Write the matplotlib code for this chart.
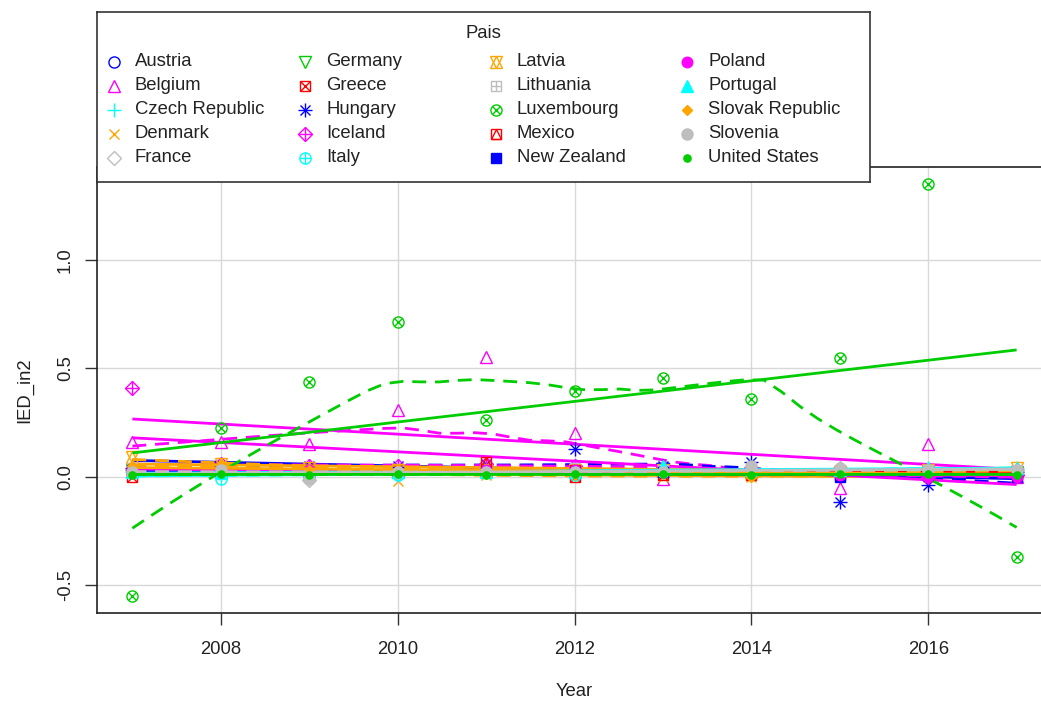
import numpy as np
import matplotlib
matplotlib.use("Agg")
import matplotlib.pyplot as plt

plt.rcParams['font.family'] = ['Liberation Sans', 'DejaVu Sans']

# ---------------- data ----------------
years = [2007, 2008, 2009, 2010, 2011, 2012, 2013, 2014, 2015, 2016, 2017]

paises = ["Austria", "Belgium", "Czech Republic", "Denmark", "France",
          "Germany", "Greece", "Hungary", "Iceland", "Italy",
          "Latvia", "Lithuania", "Luxembourg", "Mexico", "New Zealand",
          "Poland", "Portugal", "Slovak Republic", "Slovenia", "United States"]

austria    = [0.03, 0.03, 0.02, 0.02, 0.03, 0.02, 0.02, 0.02, 0.01, 0.01, 0.01]
belgium    = [0.16, 0.16, 0.15, 0.31, 0.55, 0.20, -0.01, 0.03, -0.05, 0.15, 0.00]
czech      = [0.02, 0.02, 0.02, 0.02, 0.02, 0.02, 0.03, 0.03, 0.03, 0.04, 0.04]
denmark    = [0.04, 0.03, 0.01, -0.02, 0.01, 0.00, 0.00, 0.00, 0.01, 0.00, 0.01]
france     = [0.03, 0.03, -0.015, 0.01, 0.02, 0.02, 0.02, 0.04, 0.04, 0.03, 0.03]
germany    = [0.03, 0.03, 0.02, 0.02, 0.02, 0.02, 0.02, 0.02, 0.02, 0.02, 0.02]
greece     = [0.00, 0.04, 0.03, 0.02, 0.03, 0.00, 0.01, 0.01, 0.01, 0.01, 0.01]
hungary    = [0.04, 0.05, 0.05, 0.05, 0.06, 0.13, 0.05, 0.07, -0.115, -0.04, 0.02]
iceland    = [0.41, 0.06, 0.05, 0.05, 0.06, 0.05, 0.04, 0.04, 0.02, 0.00, 0.01]
italy      = [0.02, -0.01, 0.01, 0.01, 0.02, 0.01, 0.02, 0.03, 0.03, 0.03, 0.03]
latvia     = [0.09, 0.06, 0.04, 0.03, 0.03, 0.03, 0.03, 0.02, 0.02, 0.03, 0.04]
lithuania  = [0.04, 0.03, 0.02, 0.02, 0.03, 0.04, 0.03, 0.03, 0.03, 0.03, 0.03]
luxembourg = [-0.552, 0.225, 0.437, 0.713, 0.262, 0.395, 0.455, 0.359, 0.547, 1.352, -0.372]
mexico     = [0.02, 0.02, 0.02, 0.02, 0.07, 0.03, 0.02, 0.02, 0.02, 0.01, 0.02]
new_zealand = [0.03, 0.02, 0.02, 0.02, 0.02, 0.02, 0.02, 0.02, 0.00, 0.01, 0.00]
poland     = [0.03, 0.03, 0.03, 0.02, 0.03, 0.03, 0.02, 0.02, 0.01, 0.00, 0.00]
portugal   = [0.02, 0.02, 0.02, 0.02, 0.02, 0.02, 0.05, 0.03, 0.03, 0.04, 0.04]
slovak     = [0.05, 0.06, 0.03, 0.03, 0.02, 0.01, 0.02, 0.00, 0.02, 0.02, 0.03]
slovenia   = [0.02, 0.03, -0.01, 0.02, 0.02, 0.02, 0.02, 0.05, 0.04, 0.03, 0.03]
usa        = [0.010, 0.012, 0.010, 0.011, 0.010, 0.012, 0.011, 0.010, 0.012, 0.011, 0.010]

series = [austria, belgium, czech, denmark, france, germany, greece, hungary,
          iceland, italy, latvia, lithuania, luxembourg, mexico, new_zealand,
          poland, portugal, slovak, slovenia, usa]

# R-style palette, recycled over the groups
palette = ["#0000FF", "#FF00FF", "#00FFFF", "#FFA500", "#BEBEBE", "#00CD00", "#FF0000"]

# plotting symbols (pch 1..20) built from stacked matplotlib markers
MS = 8
PCH = {
    1: [('o', False, 1.0)],
    2: [('^', False, 1.15)],
    3: [('+', None, 1.25)],
    4: [('x', None, 0.95)],
    5: [('D', False, 0.9)],
    6: [('v', False, 1.15)],
    7: [('s', False, 0.9), ('x', None, 0.9)],
    8: [('+', None, 1.25), ('x', None, 0.9)],
    9: [('D', False, 0.9), ('+', None, 1.27)],
    10: [('o', False, 1.0), ('+', None, 1.0)],
    11: [('^', False, 1.0), ('v', False, 1.0)],
    12: [('s', False, 0.9), ('+', None, 0.9)],
    13: [('o', False, 1.0), ('x', None, 0.71)],
    14: [('s', False, 0.9), ('^', False, 0.9)],
    15: [('s', True, 0.85)],
    16: [('o', True, 0.95)],
    17: [('^', True, 1.1)],
    18: [('D', True, 0.6)],
    19: [('o', True, 1.0)],
    20: [('o', True, 0.65)],
}


def pch_plot(a, x, y, pch, color, z):
    for m, filled, k in PCH[pch]:
        a.plot(x, y, linestyle='none', marker=m, ms=MS * k, mew=1.0,
               mec=color, mfc=color if filled else 'none', zorder=z)


def loess_line(x, y, xe, span=2 / 3, iterations=4):
    # local linear loess with tricube weights, symmetric (robust) family
    n = len(x)
    q = int(np.floor(n * span))
    rob = np.ones(n)

    def fit_at(x0, rw):
        d = np.abs(x - x0)
        h = np.sort(d)[q - 1]
        w = np.clip(1 - (d / h) ** 3, 0, None) ** 3 * rw
        sw = w.sum()
        xm = (w * x).sum() / sw
        ym = (w * y).sum() / sw
        sxx = (w * (x - xm) ** 2).sum()
        b = (w * (x - xm) * (y - ym)).sum() / sxx if sxx > 0 else 0.0
        return ym + b * (x0 - xm)

    for it in range(iterations):
        fitted = np.array([fit_at(xi, rob) for xi in x])
        if it < iterations - 1:
            res = y - fitted
            s = np.median(np.abs(res))
            if s <= 0:
                break
            u = res / (6 * s)
            rob = np.where(np.abs(u) < 1, (1 - u ** 2) ** 2, 0.0)
    return np.array([fit_at(x0, rob) for x0 in xe])


# ---------------- figure ----------------
W, H = 1041, 702
fig = plt.figure(figsize=(W / 100, H / 100), dpi=100)
ax = fig.add_axes([97 / W, (H - 613) / H, (1052 - 97) / W, (613 - 167) / H])

x = np.array(years, dtype=float)
ally = np.concatenate([np.array(s, dtype=float) for s in series])
xpad = 0.04 * (x.max() - x.min())
ypad = 0.04 * (ally.max() - ally.min())
ax.set_xlim(x.min() - xpad, x.max() + xpad)
ax.set_ylim(ally.min() - ypad, ally.max() + ypad)

ax.set_xticks([2008, 2010, 2012, 2014, 2016])
ax.set_yticks([-0.5, 0.0, 0.5, 1.0])
ax.set_yticklabels(["-0.5", "0.0", "0.5", "1.0"])
ax.grid(color="#D8D8D8", lw=1.0, zorder=0)
ax.set_axisbelow(True)
ax.tick_params(length=8.5, width=1.0, color="#333333", labelsize=13.3,
               labelcolor="#222222")
ax.tick_params(axis='x', pad=12)
ax.tick_params(axis='y', pad=8, labelrotation=90)
for lab in ax.get_yticklabels():
    lab.set_va('center')
for sp in ax.spines.values():
    sp.set_color("#222222")
    sp.set_linewidth(1.2)

xe = np.linspace(x.min(), x.max(), 50)
for i, (name, vals) in enumerate(zip(paises, series)):
    col = palette[i % len(palette)]
    y = np.array(vals, dtype=float)
    z = 2 + i * 0.1
    pch_plot(ax, x, y, i + 1, col, z)
    b, a0 = np.polyfit(x, y, 1)
    ax.plot([x.min(), x.max()], [a0 + b * x.min(), a0 + b * x.max()],
            color=col, lw=2.0, zorder=z + 0.01, solid_capstyle='butt')
    ax.plot(xe, loess_line(x, y, xe), color=col, lw=2.0,
            dashes=(5.0, 3.2), zorder=z + 0.02)

fig.text(574.5 / W, 1 - 692 / H, "Year", ha='center', va='center',
         fontsize=13.3, color="#222222")
fig.text(25 / W, 1 - 390 / H, "IED_in2", ha='center', va='center',
         rotation=90, fontsize=13.3, color="#222222")

# ---------------- legend box ----------------
lax = fig.add_axes([97 / W, 1 - 182 / H, (870 - 97) / W, (182 - 12) / H],
                   zorder=5)
lax.set_xlim(0, 773)
lax.set_ylim(170, 0)
lax.set_xticks([])
lax.set_yticks([])
lax.set_facecolor("white")
for sp in lax.spines.values():
    sp.set_color("#333333")
    sp.set_linewidth(1.2)

lax.text(386.5, 21, "Pais", ha='center', va='center', fontsize=13.3,
         color="#222222")
for i, name in enumerate(paises):
    c, r = divmod(i, 5)
    sx = 17 + c * 191
    sy = 50 + r * 24
    pch_plot(lax, [sx], [sy], i + 1, palette[i % len(palette)], 3)
    lax.text(sx + 21, sy, name, ha='left', va='center', fontsize=13.3,
             color="#222222")

fig.savefig("out.png", dpi=100)
